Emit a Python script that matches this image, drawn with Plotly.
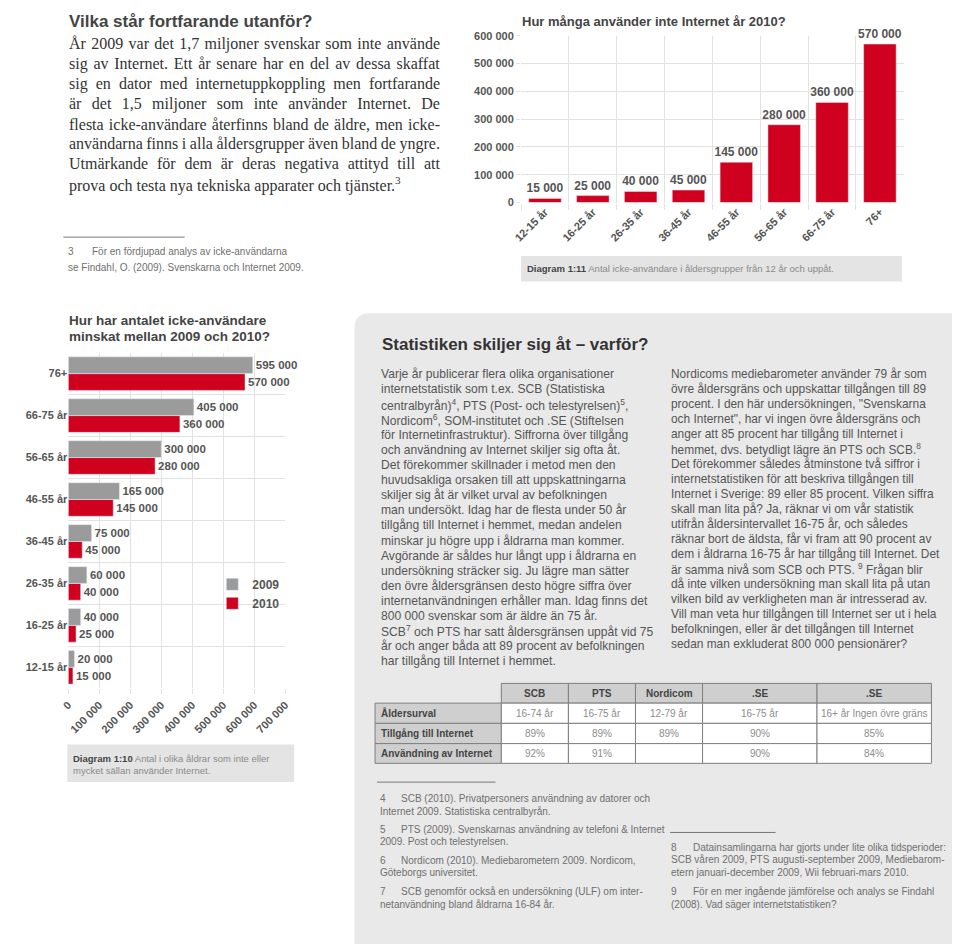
import plotly.graph_objects as go

# ---------------- data ----------------
ages_top = ["12-15 år", "16-25 år", "26-35 år", "36-45 år", "46-55 år", "56-65 år", "66-75 år", "76+"]
users_none_2010 = [15000, 25000, 40000, 45000, 145000, 280000, 360000, 570000]

ages_bottom = ["12-15 år", "16-25 år", "26-35 år", "36-45 år", "46-55 år", "56-65 år", "66-75 år", "76+"]
vals_2009 = [20000, 40000, 60000, 75000, 165000, 300000, 405000, 595000]
vals_2010 = [15000, 25000, 40000, 45000, 145000, 280000, 360000, 570000]

top_ticks = [0, 100000, 200000, 300000, 400000, 500000, 600000]
bottom_ticks = [0, 100000, 200000, 300000, 400000, 500000, 600000, 700000]

table_header = ["SCB", "PTS", "Nordicom", ".SE", ".SE"]
table_rows = ["Åldersurval", "Tillgång till Internet", "Användning av Internet"]
table_scb = ["16-74 år", "89%", "92%"]
table_pts = ["16-75 år", "89%", "91%"]
table_nordicom = ["12-79 år", "89%", ""]
table_se1 = ["16-75 år", "90%", "90%"]
table_se2 = ["16+ år Ingen övre gräns", "85%", "84%"]

intro_lines = [
    "År 2009 var det 1,7 miljoner svenskar som inte använde",
    "sig av Internet. Ett år senare har en del av dessa skaffat",
    "sig en dator med internetuppkoppling men fortfarande",
    "är det 1,5 miljoner som inte använder Internet. De",
    "flesta icke-användare återfinns bland de äldre, men icke-",
    "användarna finns i alla åldersgrupper även bland de yngre.",
    "Utmärkande för dem är deras negativa attityd till att",
    "prova och testa nya tekniska apparater och tjänster.",
]

col1_lines = [
    "Varje år publicerar flera olika organisationer",
    "internetstatistik som t.ex. SCB (Statistiska",
    "centralbyrån)<sup>4</sup>, PTS (Post- och telestyrelsen)<sup>5</sup>,",
    "Nordicom<sup>6</sup>, SOM-institutet och .SE (Stiftelsen",
    "för Internetinfrastruktur). Siffrorna över tillgång",
    "och användning av Internet skiljer sig ofta åt.",
    "Det förekommer skillnader i metod men den",
    "huvudsakliga orsaken till att uppskattningarna",
    "skiljer sig åt är vilket urval av befolkningen",
    "man undersökt. Idag har de flesta under 50 år",
    "tillgång till Internet i hemmet, medan andelen",
    "minskar ju högre upp i åldrarna man kommer.",
    "Avgörande är såldes hur långt upp i åldrarna en",
    "undersökning sträcker sig. Ju lägre man sätter",
    "den övre åldersgränsen desto högre siffra över",
    "internetanvändningen erhåller man. Idag finns det",
    "800 000 svenskar som är äldre än 75 år.",
    "SCB<sup>7</sup> och PTS har satt åldersgränsen uppåt vid 75",
    "år och anger båda att 89 procent av befolkningen",
    "har tillgång till Internet i hemmet.",
]

col2_lines = [
    "Nordicoms mediebarometer använder 79 år som",
    "övre åldersgräns och uppskattar tillgången till 89",
    "procent. I den här undersökningen, \"Svenskarna",
    "och Internet\", har vi ingen övre åldersgräns och",
    "anger att 85 procent har tillgång till Internet i",
    "hemmet, dvs. betydligt lägre än PTS och SCB.<sup>8</sup>",
    "Det förekommer således åtminstone två siffror i",
    "internetstatistiken för att beskriva tillgången till",
    "Internet i Sverige: 89 eller 85 procent. Vilken siffra",
    "skall man lita på? Ja, räknar vi om vår statistik",
    "utifrån åldersintervallet 16-75 år, och således",
    "räknar bort de äldsta, får vi fram att 90 procent av",
    "dem i åldrarna 16-75 år har tillgång till Internet. Det",
    "är samma nivå som SCB och PTS. <sup>9</sup> Frågan blir",
    "då inte vilken undersökning man skall lita på utan",
    "vilken bild av verkligheten man är intresserad av.",
    "Vill man veta hur tillgången till Internet ser ut i hela",
    "befolkningen, eller är det tillgången till Internet",
    "sedan man exkluderat 800 000 pensionärer?",
]

footnotes_left = [
    ("4", "SCB (2010). Privatpersoners användning av datorer och", "Internet 2009. Statistiska centralbyrån."),
    ("5", "PTS (2009). Svenskarnas användning av telefoni &amp; Internet", "2009. Post och telestyrelsen."),
    ("6", "Nordicom (2010). Mediebarometern 2009. Nordicom,", "Göteborgs universitet."),
    ("7", "SCB genomför också en undersökning (ULF) om inter-", "netanvändning bland åldrarna 16-84 år."),
]
footnotes_right = [
    ("8", "Datainsamlingarna har gjorts under lite olika tidsperioder:",
     "SCB våren 2009, PTS augusti-september 2009, Mediebarom-",
     "etern januari-december 2009, Wii februari-mars 2010."),
    ("9", "För en mer ingående jämförelse och analys se Findahl",
     "(2008). Vad säger internetstatistiken?"),
]

# ---------------- styling ----------------
W, H = 960, 944
RED = "#d0011f"
GRAY = "#9b9b9b"
GRID = "#e2e2e2"
DARK = "#444444"
TXT = "#555555"
LIGHT = "#6f6f6f"
SANS = "Liberation Sans, Arial, sans-serif"
SERIF = "Liberation Serif, Times New Roman, serif"
PANEL = "#e9e9e9"

# Times-compatible advance widths (per 1000 em) used to justify the serif paragraph
TIMES_W = {" ": 250, ",": 250, ".": 250, "-": 333, "0": 500, "1": 500, "2": 500, "5": 500, "7": 500, "9": 500,
           "A": 722, "Å": 722, "D": 722, "E": 611, "I": 333, "U": 722,
           "a": 444, "b": 500, "c": 444, "d": 500, "e": 444, "f": 333, "g": 500, "h": 500, "i": 278,
           "j": 278, "k": 500, "l": 278, "m": 778, "n": 500, "o": 500, "p": 500, "r": 333, "s": 389,
           "t": 278, "u": 500, "v": 500, "y": 500, "ä": 444, "å": 444, "ö": 500}


def X(px):
    return px / W


def Y(py):
    return 1 - py / H


annotations = []


def ann(x, y, text, size, color=TXT, family=SANS, bold=False, xanchor="left", yanchor="middle"):
    annotations.append(dict(
        x=X(x), y=Y(y), xref="paper", yref="paper", text=text, showarrow=False,
        xanchor=xanchor, yanchor=yanchor, align="left", borderpad=0,
        font=dict(size=size, color=color, family=family, weight="bold" if bold else "normal"),
    ))


def justified(line, size, target):
    natural = sum(TIMES_W.get(ch, 500) for ch in line) / 1000.0 * size
    n = line.count(" ")
    ws = (target - natural) / n if n else 0
    return "<span style='word-spacing:%.2fpx'>%s</span>" % (ws, line)


fig = go.Figure()

# Top chart: 2010 non-users by age group
fig.add_trace(go.Bar(
    x=ages_top, y=users_none_2010, marker_color=RED, width=0.68,
    texttemplate="%{y:,.0f}", textposition="outside", cliponaxis=False, constraintext="none",
    textfont=dict(size=12, color=TXT, family=SANS, weight="bold"),
    xaxis="x", yaxis="y", showlegend=False, hoverinfo="skip",
))

# Bottom chart: 2009 vs 2010
fig.add_trace(go.Bar(
    y=ages_bottom, x=vals_2010, orientation="h", name="2010", marker_color=RED,
    texttemplate="%{x:,.0f}", textposition="outside", cliponaxis=False, constraintext="none",
    textfont=dict(size=11.5, color=TXT, family=SANS, weight="bold"),
    xaxis="x2", yaxis="y2", hoverinfo="skip",
))
fig.add_trace(go.Bar(
    y=ages_bottom, x=vals_2009, orientation="h", name="2009", marker_color=GRAY,
    texttemplate="%{x:,.0f}", textposition="outside", cliponaxis=False, constraintext="none",
    textfont=dict(size=11.5, color=TXT, family=SANS, weight="bold"),
    xaxis="x2", yaxis="y2", hoverinfo="skip",
))

# ---------------- text ----------------
ann(53, 8, "Vilka står fortfarande utanför?", 17, color=DARK, bold=True)
for i, line in enumerate(intro_lines):
    if i < len(intro_lines) - 1:
        txt = justified(line, 16, 371)
    else:
        txt = line + "<sup>3</sup>"
    ann(53, 30 + i * 20.4, txt, 16, color="#333333", family=SERIF)

ann(52, 241, "3", 10, color=LIGHT)
ann(76, 241, "För en fördjupad analys av icke-användarna", 10, color=LIGHT)
ann(52, 257, "se Findahl, O. (2009). Svenskarna och Internet 2009.", 10, color=LIGHT)

ann(512, 8, "Hur många använder inte Internet år 2010?", 13, color=DARK, bold=True)
ann(53, 310, "Hur har antalet icke-användare", 13.5, color=DARK, bold=True)
ann(53, 327, "minskat mellan 2009 och 2010?", 13.5, color=DARK, bold=True)

ann(517, 258, "<b>Diagram 1:11</b> <span style='color:#8a8a8a'>Antal icke-användare i åldersgrupper från 12 år och uppåt.</span>", 9.5, color=DARK)
ann(57, 754, "<b>Diagram 1:10</b> <span style='color:#8a8a8a'>Antal i olika åldrar som inte eller</span>", 9.5, color=DARK)
ann(57, 766, "<span style='color:#8a8a8a'>mycket sällan använder Internet.</span>", 9.5, color=DARK)

ann(370, 335, "Statistiken skiljer sig åt – varför?", 17, color="#333333", bold=True)
for i, line in enumerate(col1_lines):
    ann(369, 365 + i * 15.3, line, 12.1, color=TXT)
for i, line in enumerate(col2_lines):
    ann(663, 365 + i * 15.2, line, 11.9, color=TXT)

fy = [795, 826, 857, 889]
for (num, l1, l2), y0 in zip(footnotes_left, fy):
    ann(368, y0, num, 10, color=LIGHT)
    ann(389, y0, l1, 10, color=LIGHT)
    ann(368, y0 + 12.5, l2, 10, color=LIGHT)
ry = [844, 889]
for item, y0 in zip(footnotes_right, ry):
    ann(663, y0, item[0], 10, color=LIGHT)
    ann(685, y0, item[1], 10, color=LIGHT)
    for k, extra in enumerate(item[2:]):
        ann(663, y0 + 12.8 * (k + 1), extra, 10, color=LIGHT)


# ---------------- shapes ----------------
def rect(x0, y0, x1, y1, fill, line_color=None, layer="below"):
    return dict(type="rect", xref="paper", yref="paper", x0=X(x0), x1=X(x1), y0=Y(y1), y1=Y(y0),
                fillcolor=fill, layer=layer,
                line=dict(width=1, color=line_color) if line_color else dict(width=0))


def hline(x0, x1, y, color="#777777"):
    return dict(type="line", xref="paper", yref="paper", x0=X(x0), x1=X(x1), y0=Y(y), y1=Y(y),
                line=dict(color=color, width=1))


r = 16
panel_path = (
    f"M {X(343)},{Y(944)} L {X(343)},{Y(303 + r)} Q {X(343)},{Y(303)} {X(343 + r)},{Y(303)} "
    f"L {X(960)},{Y(303)} L {X(960)},{Y(944)} Z"
)
shapes = [
    dict(type="path", xref="paper", yref="paper", path=panel_path, fillcolor=PANEL,
         line=dict(width=0), layer="below"),
    rect(512, 245, 898, 271, "#e4e4e4"),
    rect(52, 740, 282, 778, "#e4e4e4"),
    hline(48, 171, 226),
    hline(366, 486, 778),
    hline(663, 770, 829),
]

# ---------------- table (cells built from the table arrays) ----------------
col_edges = [364, 492, 560, 628, 696, 812, 928]
row_edges = [678, 698, 718.5, 739, 759]
TBL_LINE = "#7f7f7f"
TBL_HEAD = "#cfcfcf"
value_cols = [table_scb, table_pts, table_nordicom, table_se1, table_se2]

for j, head in enumerate(table_header):
    x0, x1 = col_edges[j + 1], col_edges[j + 2]
    shapes.append(rect(x0, row_edges[0], x1, row_edges[1], TBL_HEAD, TBL_LINE, layer="above"))
    ann((x0 + x1) / 2, (row_edges[0] + row_edges[1]) / 2, head, 10, color=DARK, bold=True, xanchor="center")

for i, label in enumerate(table_rows):
    y0, y1 = row_edges[i + 1], row_edges[i + 2]
    shapes.append(rect(col_edges[0], y0, col_edges[1], y1, TBL_HEAD, TBL_LINE, layer="above"))
    ann(col_edges[0] + 5, (y0 + y1) / 2, label, 10, color=DARK, bold=True)
    for j, col in enumerate(value_cols):
        x0, x1 = col_edges[j + 1], col_edges[j + 2]
        shapes.append(rect(x0, y0, x1, y1, "white", TBL_LINE, layer="above"))
        if col[i]:
            ann((x0 + x1) / 2, (y0 + y1) / 2, col[i], 10, color="#8c8c8c", xanchor="center")

fig.update_layout(
    width=W, height=H, autosize=False,
    margin=dict(l=0, r=0, t=0, b=0),
    paper_bgcolor="white", plot_bgcolor="white",
    separators=", ",
    barmode="group", bargap=0.2, bargroupgap=0.0,
    font=dict(family=SANS, color=TXT),
    showlegend=True,
    legend=dict(
        x=X(199), y=Y(563), xanchor="left", yanchor="top",
        traceorder="reversed", bgcolor="rgba(0,0,0,0)",
        font=dict(size=12, color=TXT, family=SANS, weight="bold"),
        itemwidth=30, tracegroupgap=0,
    ),
    xaxis=dict(
        domain=[X(512), X(900)], anchor="y", type="category", tickson="boundaries",
        range=[-0.5, 7.5], showgrid=True, gridcolor=GRID, gridwidth=1,
        ticks="outside", ticklen=6, tickcolor=GRID, tickangle=-45,
        tickfont=dict(size=11, color=TXT, family=SANS, weight="bold"),
        showline=False, zeroline=False, fixedrange=True,
    ),
    yaxis=dict(
        domain=[Y(191), Y(22)], anchor="x", range=[0, 600000],
        tickvals=top_ticks, tickformat=",.0f", showgrid=True, gridcolor=GRID,
        ticks="outside", ticklen=4, tickcolor=GRID,
        tickfont=dict(size=11, color=TXT, family=SANS, weight="bold"),
        showline=False, zeroline=False, fixedrange=True,
    ),
    xaxis2=dict(
        domain=[X(53), X(273)], anchor="y2", range=[0, 700000],
        tickvals=bottom_ticks, tickformat=",.0f", showgrid=True, gridcolor=GRID,
        ticks="outside", ticklen=5, tickcolor=GRID, tickangle=-45,
        tickfont=dict(size=11, color=TXT, family=SANS, weight="bold"),
        showline=False, zeroline=False, fixedrange=True,
    ),
    yaxis2=dict(
        domain=[Y(683), Y(343)], anchor="x2", type="category", tickson="boundaries",
        range=[-0.5, 7.5], showgrid=True, gridcolor=GRID,
        ticks="", tickfont=dict(size=11, color=TXT, family=SANS, weight="bold"),
        showline=False, zeroline=False, fixedrange=True,
    ),
    annotations=annotations,
    shapes=shapes,
)

fig.write_html("out.html", config={"displayModeBar": False})
